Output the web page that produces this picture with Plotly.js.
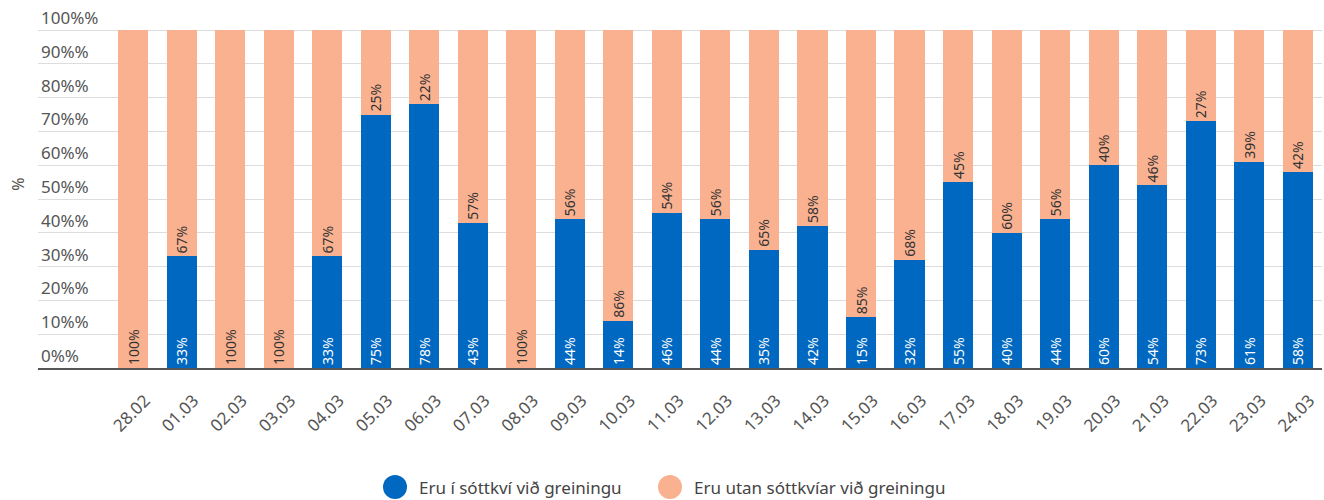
<!DOCTYPE html>
<html>
<head>
<meta charset="utf-8">
<script src="https://cdn.plot.ly/plotly-3.0.1.min.js"></script>
<style>html,body{margin:0;padding:0;background:#fff;}#chart{width:1324px;height:500px;}</style>
</head>
<body>
<div id="chart"></div>
<script>
const categories = ["28.02","01.03","02.03","03.03","04.03","05.03","06.03","07.03","08.03","09.03","10.03","11.03","12.03","13.03","14.03","15.03","16.03","17.03","18.03","19.03","20.03","21.03","22.03","23.03","24.03"];
const inQuarantine = [0,33,0,0,33,75,78,43,0,44,14,46,44,35,42,15,32,55,40,44,60,54,73,61,58];
const outsideQuarantine = [100,67,100,100,67,25,22,57,100,56,86,54,56,65,58,85,68,45,60,56,40,46,27,39,42];
const seriesNames = ["Eru í sóttkví við greiningu", "Eru utan sóttkvíar við greiningu"];
const yTicks = [0,10,20,30,40,50,60,70,80,90,100];

const BLUE = "#0068c0";
const ORANGE = "#f9b190";
const FONT = "Noto Sans, sans-serif";

function labels(arr){ return arr.map(v => v > 0 ? v + "%" : ""); }

const traces = [
  {
    type: "bar", x: categories, y: inQuarantine, name: seriesNames[0],
    marker: {color: BLUE}, text: labels(inQuarantine), textposition: "inside",
    insidetextanchor: "start", textangle: -90, constraintext: "none",
    insidetextfont: {color: "#ffffff", size: 14, family: FONT},
    showlegend: false, hoverinfo: "x+y"
  },
  {
    type: "bar", x: categories, y: outsideQuarantine, name: seriesNames[1],
    marker: {color: ORANGE}, text: labels(outsideQuarantine), textposition: "inside",
    insidetextanchor: "start", textangle: -90, constraintext: "none",
    insidetextfont: {color: "#333333", size: 14, family: FONT},
    showlegend: false, hoverinfo: "x+y"
  }
];

const plotTop = 0, plotBottom = 368;
const plotH = plotBottom - plotTop;
// legend drawn as circles + text
const legendY = (plotBottom - 487) / plotH;
const legendItems = [
  {x: (395 - 38) / 1284, color: BLUE, text: seriesNames[0]},
  {x: (670 - 38) / 1284, color: ORANGE, text: seriesNames[1]}
];
const shapes = legendItems.map(it => ({
  type: "circle", xref: "paper", yref: "paper",
  xsizemode: "pixel", ysizemode: "pixel",
  xanchor: it.x, yanchor: legendY,
  x0: -12, x1: 12, y0: -12, y1: 12,
  fillcolor: it.color, line: {width: 0}
}));
const annotations = legendItems.map(it => ({
  xref: "paper", yref: "paper", x: it.x, y: legendY,
  xanchor: "left", yanchor: "middle", xshift: 22,
  text: it.text, showarrow: false,
  font: {size: 17, color: "#444444", family: FONT}
}));

const layout = {
  width: 1324, height: 500,
  margin: {l: 38, r: 2, t: plotTop, b: 500 - plotBottom},
  barmode: "stack",
  bargap: 0.38,
  paper_bgcolor: "#ffffff",
  plot_bgcolor: "#ffffff",
  font: {family: FONT, color: "#555555", size: 14},
  xaxis: {
    type: "category",
    range: [-1.96, 24.5],
    tickangle: -45,
    ticklabelshift: 12,
    ticklabelstandoff: 14,
    tickfont: {size: 17, color: "#555555"},
    showgrid: false,
    showline: true, linecolor: "#555555", linewidth: 2,
    ticks: "", fixedrange: true
  },
  yaxis: {
    range: [0, 100 * plotH / 338],
    tickvals: yTicks,
    ticktext: yTicks.map(v => v + "%%"),
    ticklabelposition: "inside top",
    tickfont: {size: 17, color: "#555555"},
    showgrid: true, gridcolor: "#dddddd", gridwidth: 1,
    zeroline: false, showline: false, ticks: "",
    title: {text: "%", font: {size: 16, color: "#555555"}, standoff: 12},
    fixedrange: true
  },
  shapes: shapes,
  annotations: annotations,
  showlegend: false
};

Plotly.newPlot("chart", traces, layout, {displayModeBar: false, staticPlot: true});
</script>
</body>
</html>
